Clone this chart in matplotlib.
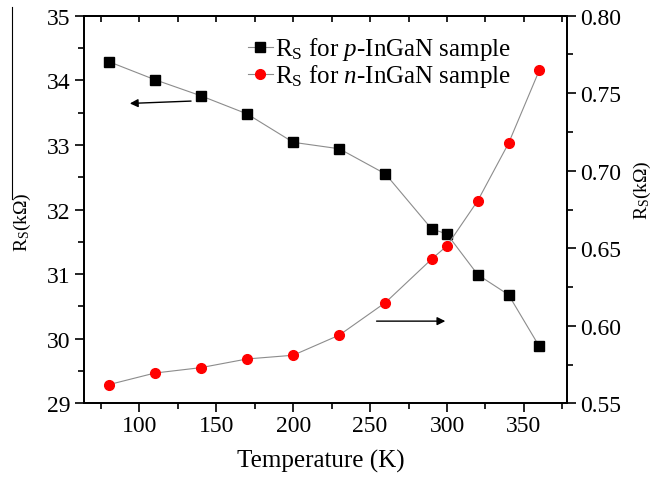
import matplotlib
matplotlib.use("Agg")
import matplotlib.pyplot as plt
from matplotlib.lines import Line2D

plt.rcParams["font.family"] = ["Liberation Serif", "DejaVu Serif"]
plt.rcParams["mathtext.fontset"] = "custom"
plt.rcParams["mathtext.rm"] = "Liberation Serif"
plt.rcParams["mathtext.it"] = "Liberation Serif:italic"

# data
temp = [80, 110, 140, 170, 200, 230, 260, 290, 300, 320, 340, 360]
rs_p = [34.29, 34.01, 33.76, 33.48, 33.04, 32.94, 32.55, 31.70, 31.62, 30.99, 30.68, 29.88]
rs_n = [0.562, 0.5695, 0.573, 0.5786, 0.581, 0.594, 0.615, 0.643, 0.6516, 0.6807, 0.7177, 0.7648]

fig = plt.figure(figsize=(6.56, 4.81), dpi=100)
ax1 = fig.add_axes([84 / 656, 1 - 404.3 / 481, 483 / 656, 387.6 / 481])
ax2 = ax1.twinx()

# p-InGaN (left axis)
l1, = ax1.plot(temp, rs_p, color="#8c8c8c", lw=0.8, marker="s", ms=7,
               mfc="black", mec="black", label=r"R$_\mathrm{S}$ for $p$-InGaN sample")
# n-InGaN (right axis)
l2, = ax2.plot(temp, rs_n, color="#8c8c8c", lw=0.8, marker="o", ms=7,
               mfc="red", mec="red", label=r"R$_\mathrm{S}$ for $n$-InGaN sample")

ax1.set_xlim(64, 378)
ax1.set_ylim(29, 35)
ax2.set_ylim(0.55, 0.80)
ax1.set_xticks([100, 150, 200, 250, 300, 350])
ax1.set_xticks([75, 125, 175, 225, 275, 325, 375], minor=True)
ax1.set_yticks(range(29, 36))
ax1.set_yticks([29.5, 30.5, 31.5, 32.5, 33.5, 34.5], minor=True)
ax2.set_yticks([0.55, 0.60, 0.65, 0.70, 0.75, 0.80])
ax2.set_yticks([0.575, 0.625, 0.675, 0.725, 0.775], minor=True)
ax2.set_yticklabels(["0.55", "0.60", "0.65", "0.70", "0.75", "0.80"])

for ax in (ax1, ax2):
    for s in ax.spines.values():
        s.set_linewidth(1.3)

ax1.tick_params(axis="y", which="major", direction="out", length=6.5, width=1.2,
                labelsize=17, pad=3)
ax1.tick_params(axis="y", which="minor", direction="out", length=4, width=1.2)
ax1.tick_params(axis="x", which="major", direction="out", length=6.5, width=1.2,
                labelsize=17, pad=2, top=False)
ax1.tick_params(axis="x", which="minor", direction="out", length=4, width=1.2, top=False)
ax2.tick_params(axis="y", which="major", direction="out", length=6.5, width=1.2,
                labelsize=17, pad=3)
ax2.tick_params(axis="y", which="minor", direction="out", length=4, width=1.2)

# inward ticks on the top edge
top = ax1.secondary_xaxis("top")
top.set_xticks([100, 150, 200, 250, 300, 350])
top.set_xticks([75, 125, 175, 225, 275, 325, 375], minor=True)
top.tick_params(axis="x", which="both", direction="in", length=4, width=1.2, labeltop=False)
top.spines["top"].set_linewidth(1.3)

ax1.set_xlabel("Temperature (K)", fontsize=18)
ax1.set_ylabel(r"R$_\mathrm{S}$(k$\Omega$)", fontsize=14)
ax2.set_ylabel(r"R$_\mathrm{S}$(k$\Omega$)", fontsize=14, rotation=90)
ax1.xaxis.set_label_coords(0.49, -0.118)
ax1.yaxis.set_label_coords(-0.106, 0.47)
ax2.yaxis.set_label_coords(1.135, 0.553)

# arrows pointing to the axes
ax1.annotate("", xy=(92, 33.64), xytext=(135.4, 33.68),
             arrowprops=dict(arrowstyle="-|>", color="black", lw=1.0, mutation_scale=12))
ax2.annotate("", xy=(300.7, 0.603), xytext=(252.4, 0.603),
             arrowprops=dict(arrowstyle="-|>", color="black", lw=1.0, mutation_scale=12))

ax2.legend(handles=[l1, l2], loc="upper left", bbox_to_anchor=(0.318, 0.975),
           frameon=False, fontsize=18, handlelength=1.0, handletextpad=0.1,
           labelspacing=0.0, borderaxespad=0)

# stray vertical line at the left edge of the original
fig.add_artist(Line2D([12.3 / 656, 12.3 / 656], [1 - 8 / 481, 1 - 200 / 481],
                      color="black", lw=0.8))

fig.savefig("out.png", dpi=100)
